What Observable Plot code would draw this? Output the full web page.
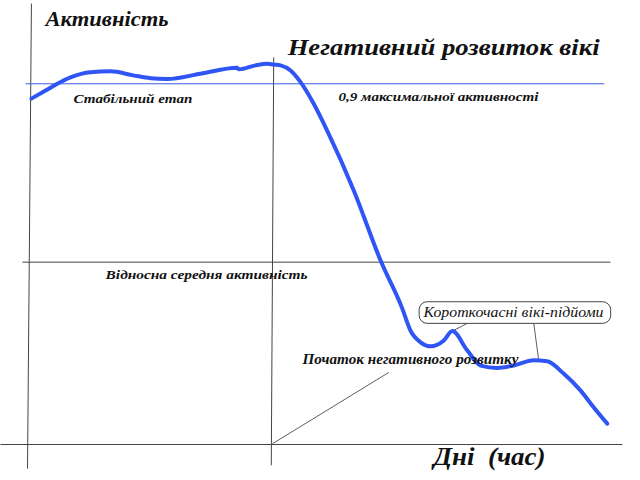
<!DOCTYPE html>
<html>
<head>
<meta charset="utf-8">
<script src="https://cdn.jsdelivr.net/npm/d3@7"></script>
<script src="https://cdn.jsdelivr.net/npm/@observablehq/plot@0.6"></script>
<style>
  html, body { margin: 0; padding: 0; background: #fff; }
  #chart svg { display: block; }
</style>
</head>
<body>
<div id="chart"></div>
<script>
// Activity curve (x: days, y: share of maximum activity)
const days = [0.12, 0.70, 1.18, 1.72, 2.54, 3.36, 4.30, 5.00, 5.68, 7.05, 8.54, 8.63, 9.30, 9.78, 10.05, 10.33, 10.74, 11.15, 11.69, 12.24, 13.33, 14.43, 15.32, 15.65, 16.07, 16.48, 17.01, 17.37, 17.98, 18.53, 19.21, 19.88, 20.70, 21.26, 21.93, 22.62, 23.16, 23.72];
const activity = [0.863, 0.883, 0.900, 0.916, 0.929, 0.931, 0.921, 0.914, 0.912, 0.925, 0.940, 0.936, 0.946, 0.950, 0.948, 0.946, 0.933, 0.904, 0.850, 0.783, 0.634, 0.459, 0.339, 0.285, 0.255, 0.245, 0.259, 0.283, 0.235, 0.197, 0.191, 0.197, 0.210, 0.208, 0.177, 0.135, 0.093, 0.052];

// Reference levels
const maxLevel = 0.9;      // 0,9 максимальної активності
const meanLevel = 0.455;   // відносна середня активність
const startDay = 10;       // початок негативного розвитку

// Annotation texts and anchors (day, activity)
const labelText = ["Активність", "Негативний розвиток вікі", "0,9 максимальної активності", "Стабільний етап", "Відносна середня активність", "Початок негативного розвитку", "Короткочасні вікі-підйоми", "Дні  (час)"];
const labelDay = [0.70, 10.62, 12.70, 1.84, 3.16, 11.23, 16.19, 16.60];
const labelAct = [1.043, 0.971, 0.858, 0.852, 0.412, 0.202, 0.317, -0.052];

// Leader lines: [day1, act1, day2, act2]
const leaderDay1 = [10.00, 17.98, 20.71];
const leaderAct1 = [0.002, 0.302, 0.301];
const leaderDay2 = [14.77, 17.37, 20.91];
const leaderAct2 = [0.180, 0.283, 0.210];

// Frame lines
const gridDay1 = [-0.12, -0.25, -1.15, 0.12, 10.05];
const gridAct1 = [maxLevel, meanLevel, 0, 1.100, 0.966];
const gridDay2 = [23.60, 23.85, 24.34, -0.04, 9.95];
const gridAct2 = [maxLevel, meanLevel, 0, -0.060, -0.052];

// Callout box
const boxDay = [16.03, 23.88];
const boxAct = [0.301, 0.355];

const curve = days.map((d, i) => ({day: d, act: activity[i]}));
const grid = gridDay1.map((d, i) => ({x1: d, y1: gridAct1[i], x2: gridDay2[i], y2: gridAct2[i], blue: i === 0}));
const leaders = leaderDay1.map((d, i) => ({x1: d, y1: leaderAct1[i], x2: leaderDay2[i], y2: leaderAct2[i]}));
const labels = labelText.map((t, i) => ({text: t, day: labelDay[i], act: labelAct[i]}));

// text styles: font size, weight, rendered width (px)
const styles = [
  {fontSize: 20, fontWeight: "bold", width: 123},
  {fontSize: 24, fontWeight: "bold", width: 312},
  {fontSize: 13, fontWeight: "bold", width: 200},
  {fontSize: 13, fontWeight: "bold", width: 119},
  {fontSize: 13, fontWeight: "bold", width: 202},
  {fontSize: 14, fontWeight: "bold", width: 216},
  {fontSize: 14, fontWeight: "normal", width: 180},
  {fontSize: 25, fontWeight: "bold", width: 112}
];

const serif = "Liberation Serif";

const textMarks = labels.map((l, i) => Plot.text([l], {
  x: "day", y: "act", text: "text",
  textAnchor: "start", lineAnchor: "bottom",
  fontFamily: serif,
  fontSize: styles[i].fontSize, fontWeight: styles[i].fontWeight,
  fontStyle: "italic",
  fill: "#111",
  className: "lbl" + i
}));

const chart = Plot.plot({
  width: 640,
  height: 480,
  margin: 0,
  style: {fontFamily: serif},
  x: {domain: [-1.1475, 25.082], axis: null},
  y: {domain: [-0.0898, 1.1078], axis: null},
  marks: [
    Plot.link(grid.filter(g => !g.blue), {x1: "x1", y1: "y1", x2: "x2", y2: "y2", stroke: "#444", strokeWidth: 1}),
    Plot.link(grid.filter(g => g.blue), {x1: "x1", y1: "y1", x2: "x2", y2: "y2", stroke: "#3a5ae8", strokeWidth: 1}),
    Plot.link(leaders, {x1: "x1", y1: "y1", x2: "x2", y2: "y2", stroke: "#333", strokeWidth: 0.8}),
    Plot.rect([{x1: boxDay[0], x2: boxDay[1], y1: boxAct[0], y2: boxAct[1]}], {x1: "x1", x2: "x2", y1: "y1", y2: "y2", fill: "white", stroke: "#444", strokeWidth: 1, rx: 8}),
    Plot.line(curve, {x: "day", y: "act", stroke: "#2f55f5", strokeWidth: 4, curve: "monotone-x", strokeLinejoin: "round", strokeLinecap: "round"}),
    ...textMarks
  ]
});

const svg = d3.select(chart);
svg.attr("font-family", serif);
styles.forEach((s, i) => {
  svg.selectAll(".lbl" + i + " text")
    .attr("font-family", serif)
    .attr("textLength", s.width)
    .attr("lengthAdjust", "spacingAndGlyphs");
});

document.getElementById("chart").appendChild(chart);
</script>
</body>
</html>
